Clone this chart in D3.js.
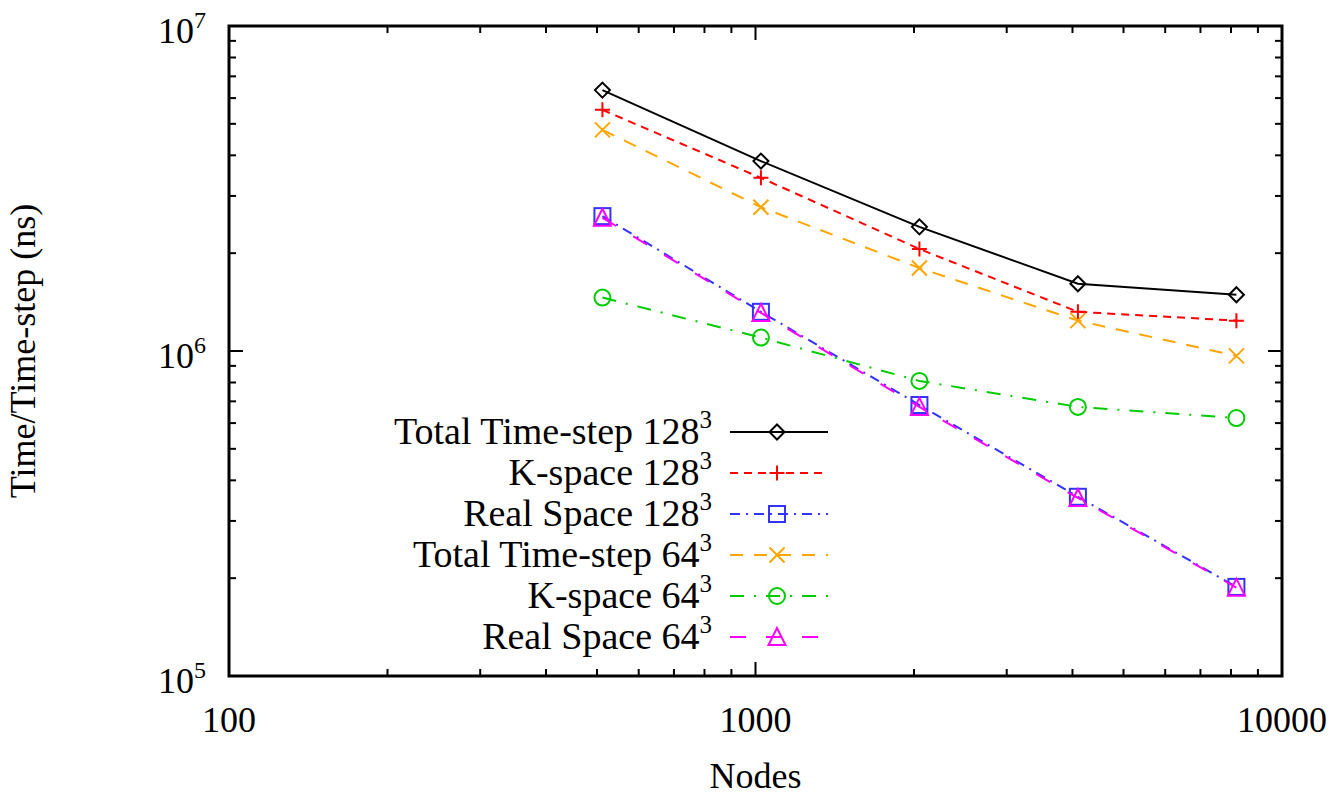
<!DOCTYPE html>
<html>
<head>
<meta charset="utf-8">
<script src="https://cdn.jsdelivr.net/npm/d3@7"></script>
<style>
  body { margin: 0; background: #fff; }
</style>
</head>
<body>
<script>
var width = 1330;
var height = 795;

// data
var nodes = [512, 1024, 2048, 4096, 8192];
var totalTime128 = [6.35e6, 3.84e6, 2.41e6, 1.61e6, 1.49e6];
var kSpace128 = [5.52e6, 3.41e6, 2.06e6, 1.32e6, 1.24e6];
var realSpace128 = [2.60e6, 1.32e6, 6.82e5, 3.56e5, 1.88e5];
var totalTime64 = [4.79e6, 2.77e6, 1.80e6, 1.24e6, 9.66e5];
var kSpace64 = [1.46e6, 1.10e6, 8.09e5, 6.73e5, 6.22e5];
var realSpace64 = [2.57e6, 1.31e6, 6.73e5, 3.53e5, 1.87e5];

var seriesNames = ["Total Time-step 128", "K-space 128", "Real Space 128",
                   "Total Time-step 64", "K-space 64", "Real Space 64"];
var xTickLabels = ["100", "1000", "10000"];
var yTickExps = [5, 6, 7];

var series = [
    {name: seriesNames[0], values: totalTime128, color: "#000000", dash: null, marker: "diamond"},
    {name: seriesNames[1], values: kSpace128, color: "#ff0000", dash: "8,6", marker: "plus"},
    {name: seriesNames[2], values: realSpace128, color: "#3333ff", dash: "10,6,2,6", marker: "square"},
    {name: seriesNames[3], values: totalTime64, color: "#ffa500", dash: "13,11", marker: "cross"},
    {name: seriesNames[4], values: kSpace64, color: "#00cc00", dash: "14,10,2,10", marker: "circle"},
    {name: seriesNames[5], values: realSpace64, color: "#ff00ff", dash: "16,20", marker: "triangle"}
];

var FONT = "'Liberation Serif', 'Times New Roman', serif";
var FS = 36;
var LEG_FS = 38;
var SUP = 24;

var margin = {left: 229, right: 1282, top: 26, bottom: 676};

var x = d3.scaleLog().domain([100, 10000]).range([margin.left, margin.right]);
var y = d3.scaleLog().domain([1e5, 1e7]).range([margin.bottom, margin.top]);

var svg = d3.select("body").append("svg")
    .attr("width", width)
    .attr("height", height)
    .style("font-family", FONT);

// ticks (inward, mirrored on all sides)
var ticks = svg.append("g").attr("stroke", "#000").attr("stroke-width", 2);

function minorValues(lo, hi) {
    var out = [];
    for (var d = lo; d < hi; d *= 10) {
        for (var k = 1; k < 10; k++) out.push(d * k);
    }
    out.push(hi);
    return out;
}

minorValues(100, 10000).forEach(function(v) {
    var major = Math.abs(Math.log10(v) - Math.round(Math.log10(v))) < 1e-9;
    var len = major ? 14 : 7;
    var px = x(v);
    ticks.append("line").attr("x1", px).attr("x2", px).attr("y1", margin.bottom).attr("y2", margin.bottom - len);
    ticks.append("line").attr("x1", px).attr("x2", px).attr("y1", margin.top).attr("y2", margin.top + len);
});

minorValues(1e5, 1e7).forEach(function(v) {
    var major = Math.abs(Math.log10(v) - Math.round(Math.log10(v))) < 1e-9;
    var len = major ? 14 : 7;
    var py = y(v);
    ticks.append("line").attr("y1", py).attr("y2", py).attr("x1", margin.left).attr("x2", margin.left + len);
    ticks.append("line").attr("y1", py).attr("y2", py).attr("x1", margin.right).attr("x2", margin.right - len);
});

// frame
svg.append("rect")
    .attr("x", margin.left).attr("y", margin.top)
    .attr("width", margin.right - margin.left)
    .attr("height", margin.bottom - margin.top)
    .attr("fill", "none").attr("stroke", "#000").attr("stroke-width", 3);

// x tick labels
xTickLabels.forEach(function(t) {
    svg.append("text")
        .attr("x", x(+t)).attr("y", margin.bottom + 56)
        .attr("text-anchor", "middle")
        .attr("font-family", FONT)
        .attr("font-size", FS)
        .text(t);
});

// y tick labels with superscripts
yTickExps.forEach(function(e) {
    var t = svg.append("text")
        .attr("x", 206).attr("y", y(Math.pow(10, e)) + 17)
        .attr("text-anchor", "end")
        .attr("font-family", FONT)
        .attr("font-size", FS);
    t.append("tspan").text("10");
    t.append("tspan").attr("font-size", SUP).attr("dy", -15).text(e);
});

// axis titles
svg.append("text")
    .attr("x", (margin.left + margin.right) / 2).attr("y", 788)
    .attr("text-anchor", "middle")
    .attr("font-family", FONT).attr("font-size", FS)
    .text("Nodes");

svg.append("text")
    .attr("transform", "translate(35," + ((margin.top + margin.bottom) / 2) + ") rotate(-90)")
    .attr("text-anchor", "middle")
    .attr("font-family", FONT).attr("font-size", FS)
    .text("Time/Time-step (ns)");

function drawMarker(g, type, cx, cy, color) {
    var s = 7.5;
    var m = g.append("g").attr("stroke", color).attr("stroke-width", 2).attr("fill", "none");
    if (type === "diamond") {
        m.append("path").attr("d", "M" + cx + "," + (cy - s) + "L" + (cx + s) + "," + cy + "L" + cx + "," + (cy + s) + "L" + (cx - s) + "," + cy + "Z");
    } else if (type === "plus") {
        m.append("path").attr("d", "M" + (cx - s) + "," + cy + "H" + (cx + s) + "M" + cx + "," + (cy - s) + "V" + (cy + s));
    } else if (type === "square") {
        m.append("rect").attr("x", cx - 8).attr("y", cy - 8).attr("width", 16).attr("height", 16);
    } else if (type === "cross") {
        m.append("path").attr("d", "M" + (cx - s) + "," + (cy - s) + "L" + (cx + s) + "," + (cy + s) + "M" + (cx - s) + "," + (cy + s) + "L" + (cx + s) + "," + (cy - s));
    } else if (type === "circle") {
        m.append("circle").attr("cx", cx).attr("cy", cy).attr("r", 8);
    } else if (type === "triangle") {
        m.append("path").attr("d", "M" + cx + "," + (cy - 9) + "L" + (cx + 8.5) + "," + (cy + 8) + "L" + (cx - 8.5) + "," + (cy + 8) + "Z");
    }
}

var line = d3.line()
    .x(function(d) { return x(d[0]); })
    .y(function(d) { return y(d[1]); });

var plot = svg.append("g");

series.forEach(function(s) {
    var pts = nodes.map(function(n, i) { return [n, s.values[i]]; });
    plot.append("path")
        .datum(pts)
        .attr("d", line)
        .attr("fill", "none")
        .attr("stroke", s.color)
        .attr("stroke-width", 2)
        .attr("stroke-dasharray", s.dash);
    pts.forEach(function(p) {
        drawMarker(plot, s.marker, x(p[0]), y(p[1]), s.color);
    });
});

// legend
var legend = svg.append("g");
series.forEach(function(s, i) {
    var ly = 432 + i * 41;
    var t = legend.append("text")
        .attr("x", 712).attr("y", ly + 12)
        .attr("text-anchor", "end")
        .attr("font-family", FONT)
        .attr("font-size", LEG_FS);
    t.append("tspan").text(s.name);
    t.append("tspan").attr("font-size", SUP + 1).attr("dy", -16).text("3");
    legend.append("line")
        .attr("x1", 730).attr("x2", 828)
        .attr("y1", ly).attr("y2", ly)
        .attr("stroke", s.color).attr("stroke-width", 2)
        .attr("stroke-dasharray", s.dash);
    drawMarker(legend, s.marker, 777, ly, s.color);
});
</script>
</body>
</html>
